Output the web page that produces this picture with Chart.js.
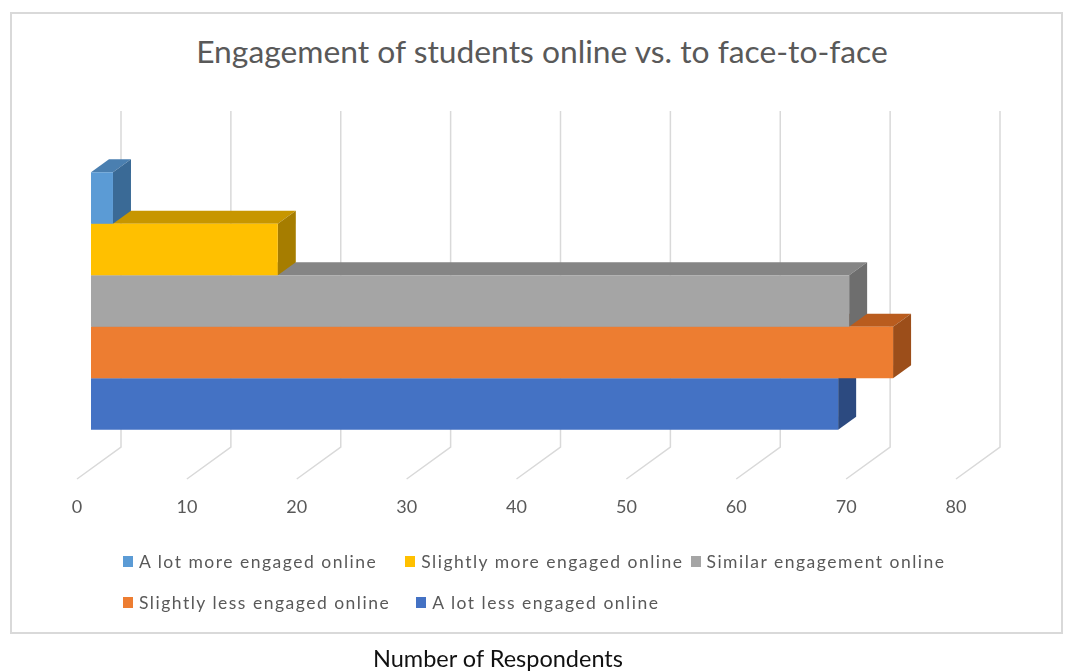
<!DOCTYPE html>
<html>
<head>
<meta charset="utf-8">
<script src="https://cdn.jsdelivr.net/npm/chart.js@4.4.1/dist/chart.umd.min.js"></script>
<style>
  body { margin: 0; background: #fff; font-family: Lato, "Open Sans", sans-serif; }
  #page { position: relative; width: 1065px; height: 671px; overflow: hidden; }
  #frame { position: absolute; left: 10px; top: 12px; width: 1049px; height: 618px; border: 2px solid #d9d9d9; }
  #chartBox { position: absolute; left: 0; top: 0; width: 1065px; height: 671px; }
  #title { position: absolute; left: 0; top: 32px; width: 1084px; text-align: center;
           font-size: 31.8px; line-height: 38px; color: #595959; }
  #legend { position: absolute; left: 123px; top: 551px; width: 880px;
            display: flex; flex-wrap: wrap; }
  .lg-item { display: flex; align-items: center; height: 20px;
             font-size: 17.5px; letter-spacing: 1.5px; color: #595959; white-space: nowrap; }
  .lg-box { width: 10px; height: 11px; margin-right: 6px; }
  .lg-break { flex-basis: 100%; height: 21px; }
  #caption { position: absolute; left: 0; top: 644px; width: 996px; text-align: center;
             font-size: 23.5px; line-height: 28px; color: #111; }
</style>
</head>
<body>
<div id="page">
  <div id="frame"></div>
  <div id="title">Engagement of students online vs. to face-to-face</div>
  <div id="chartBox"><canvas id="engagementChart"></canvas></div>
  <div id="legend"></div>
  <div id="caption">Number of Respondents</div>
</div>
<script>
const seriesNames = [
  'A lot more engaged online',
  'Slightly more engaged online',
  'Similar engagement online',
  'Slightly less engaged online',
  'A lot less engaged online'
];
const respondents = [2, 17, 69, 73, 68];
const xTicks = [0, 10, 20, 30, 40, 50, 60, 70, 80];

// front / top / side shades for the 3D boxes
const frontColors = ['#5B9BD5', '#FFC000', '#A5A5A5', '#ED7D31', '#4472C4'];
const topColors   = ['#4A7FB0', '#C79600', '#858585', '#B95C1E', '#36599A'];
const sideColors  = ['#3A6A96', '#A67D00', '#6E6E6E', '#9C4E1A', '#2C4A80'];

// spacing after each legend entry
const legendGaps = [28, 7, 0, 26, 0];

const BAR_DX = 18, BAR_DY = 13;      // bar depth
const FLOOR_FRONT = { dx: -14, dy: 10 };
const WALL_BACK = { dx: 30, dy: -22 };

function poly(ctx, pts, color) {
  ctx.beginPath();
  ctx.moveTo(pts[0][0], pts[0][1]);
  for (let i = 1; i < pts.length; i++) ctx.lineTo(pts[i][0], pts[i][1]);
  ctx.closePath();
  ctx.fillStyle = color;
  ctx.fill();
}

const box3d = {
  id: 'box3d',
  beforeDatasetsDraw(chart) {
    const { ctx, chartArea, scales } = chart;
    const xs = scales.x;

    // back wall gridlines + floor diagonals
    ctx.save();
    ctx.strokeStyle = '#d9d9d9';
    ctx.lineWidth = 1.5;
    xTicks.forEach(v => {
      const px = xs.getPixelForValue(v);
      ctx.beginPath();
      ctx.moveTo(px + FLOOR_FRONT.dx, chartArea.bottom + FLOOR_FRONT.dy);
      ctx.lineTo(px + WALL_BACK.dx, chartArea.bottom + WALL_BACK.dy);
      ctx.lineTo(px + WALL_BACK.dx, chartArea.top + WALL_BACK.dy);
      ctx.stroke();
    });

    // tick labels sit on the front edge of the floor
    ctx.fillStyle = '#595959';
    ctx.font = '18px Lato, "Open Sans", sans-serif';
    ctx.textAlign = 'center';
    ctx.textBaseline = 'middle';
    xTicks.forEach(v => {
      const px = xs.getPixelForValue(v);
      ctx.fillText(String(v), px + FLOOR_FRONT.dx, chartArea.bottom + 38);
    });

    // top and side faces, lowest bar first
    for (let d = chart.data.datasets.length - 1; d >= 0; d--) {
      const meta = chart.getDatasetMeta(d);
      meta.data.forEach(bar => {
        const { x, y, base, height } = bar.getProps(['x', 'y', 'base', 'height']);
        const top = y - height / 2, bottom = y + height / 2;
        poly(ctx, [[base, top], [x, top], [x + BAR_DX, top - BAR_DY], [base + BAR_DX, top - BAR_DY]], topColors[d]);
        poly(ctx, [[x, top], [x + BAR_DX, top - BAR_DY], [x + BAR_DX, bottom - BAR_DY], [x, bottom]], sideColors[d]);
      });
    }
    ctx.restore();
  }
};

const chart = new Chart(document.getElementById('engagementChart'), {
  type: 'bar',
  data: {
    labels: [''],
    datasets: seriesNames.map((name, i) => ({
      label: name,
      data: [respondents[i]],
      backgroundColor: frontColors[i],
      borderWidth: 0,
      barPercentage: 1,
      categoryPercentage: 0.766
    }))
  },
  options: {
    indexAxis: 'y',
    responsive: true,
    maintainAspectRatio: false,
    animation: false,
    layout: { padding: { left: 91, right: 95, top: 133, bottom: 202 } },
    plugins: {
      legend: { display: false },
      title: { display: false },
      tooltip: { enabled: false }
    },
    scales: {
      x: { display: false, min: xTicks[0], max: xTicks[xTicks.length - 1] },
      y: { display: false }
    }
  },
  plugins: [box3d]
});

// legend built from the chart's datasets, three entries on the first row
const legendEl = document.getElementById('legend');
chart.data.datasets.forEach((ds, i) => {
  const item = document.createElement('div');
  item.className = 'lg-item';
  item.style.marginRight = legendGaps[i] + 'px';
  item.innerHTML = `<span class="lg-box" style="background:${ds.backgroundColor}"></span>${ds.label}`;
  legendEl.appendChild(item);
  if (i === 2) {
    const br = document.createElement('div');
    br.className = 'lg-break';
    legendEl.appendChild(br);
  }
});
</script>
</body>
</html>
